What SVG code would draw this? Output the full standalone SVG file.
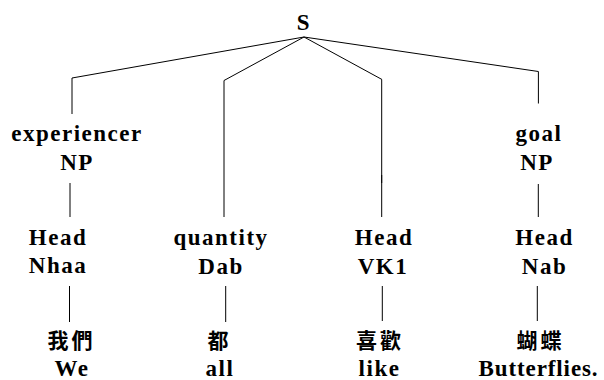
<svg xmlns="http://www.w3.org/2000/svg" width="604" height="380" viewBox="0 0 604 380">
<style>
.t{font-family:"Liberation Serif","Times New Roman",serif;font-weight:bold;font-size:23px;letter-spacing:1.5px;text-anchor:middle;fill:#000}
.c{font-family:"Noto Sans CJK TC","Noto Sans CJK SC",sans-serif;font-weight:bold;font-size:21px;letter-spacing:3px;text-anchor:middle;fill:#000}
.e line{stroke:#000;stroke-width:1;fill:none}
</style>
<rect width="604" height="380" fill="#fff"/>
<g id="connectors" class="e">
<line x1="304" y1="37" x2="72" y2="78"/>
<line x1="72" y1="78" x2="72" y2="114"/>
<line x1="304" y1="37" x2="224" y2="80.5"/>
<line x1="224" y1="80.5" x2="224" y2="217"/>
<line x1="304" y1="37" x2="382" y2="79.5"/>
<line x1="381.7" y1="79.5" x2="381.7" y2="183"/>
<line x1="381.7" y1="175" x2="381.7" y2="217"/>
<line x1="304" y1="37" x2="538.4" y2="71.5"/>
<line x1="538.4" y1="71.5" x2="538.4" y2="103.5"/>
<line x1="70" y1="183" x2="70" y2="217"/>
<line x1="538.3" y1="184" x2="538.3" y2="217"/>
<line x1="69.5" y1="286" x2="69.5" y2="322"/>
<line x1="225.7" y1="286" x2="225.7" y2="322"/>
<line x1="382.3" y1="286" x2="382.3" y2="321"/>
<line x1="537.3" y1="286" x2="537.3" y2="321"/>
</g>
<g id="S"><text class="t" x="304" y="30">S</text></g>
<g id="experiencer-NP"><text class="t" x="77" y="141">experiencer</text><text class="t" x="77" y="170">NP</text></g>
<g id="goal-NP"><text class="t" x="539" y="141">goal</text><text class="t" x="537" y="169.5">NP</text></g>
<g id="Head-Nhaa"><text class="t" x="58" y="244.5">Head</text><text class="t" x="58" y="273">Nhaa</text></g>
<g id="quantity-Dab"><text class="t" x="221" y="245">quantity</text><text class="t" x="221" y="274">Dab</text></g>
<g id="Head-VK1"><text class="t" x="384" y="245">Head</text><text class="t" x="383" y="274">VK1</text></g>
<g id="Head-Nab"><text class="t" x="544.5" y="245">Head</text><text class="t" x="544.5" y="274">Nab</text></g>
<g id="We"><text class="c" x="71.5" y="348">我們</text><text class="t" x="72" y="376">We</text></g>
<g id="all"><text class="c" x="219.5" y="348">都</text><text class="t" x="220" y="376">all</text></g>
<g id="like"><text class="c" x="380" y="348">喜歡</text><text class="t" x="379.5" y="376">like</text></g>
<g id="Butterflies"><text class="c" x="540.5" y="348">蝴蝶</text><text class="t" x="538.5" y="376" style="letter-spacing:0.9px">Butterflies.</text></g>
</svg>
